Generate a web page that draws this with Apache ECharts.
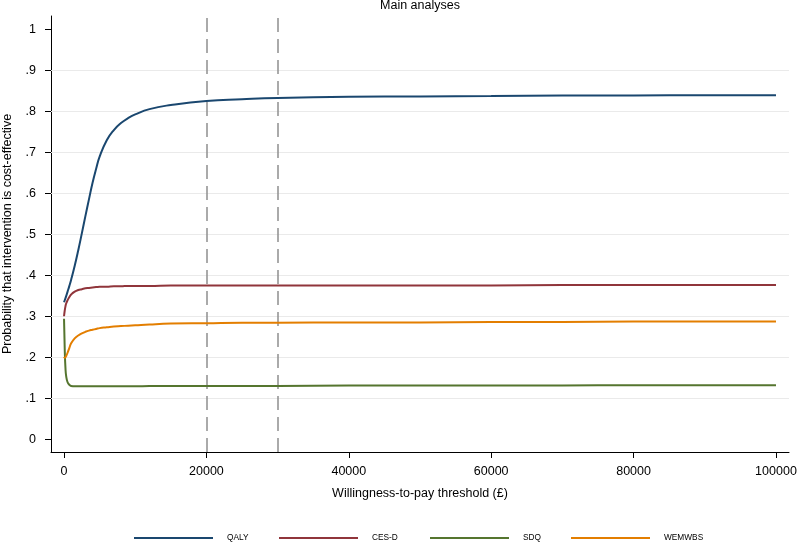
<!DOCTYPE html>
<html>
<head>
<meta charset="utf-8">
<script src="https://cdn.jsdelivr.net/npm/echarts@6/dist/echarts.min.js"></script>
<style>html,body{margin:0;padding:0;background:#fff}#c{width:797px;height:544px}</style>
</head>
<body>
<div id="c"></div>
<script>
// ---- data ----
const wtp = [0, 100, 200, 300, 500, 750, 1000, 1500, 2000, 2500, 3000, 3500, 4000, 4500, 5000, 6000, 7000, 8000, 9000, 10000, 12000, 15000, 20000, 25000, 30000, 40000, 50000, 60000, 70000, 80000, 90000, 100000];
const qaly   = [0.335, 0.340, 0.345, 0.350, 0.361, 0.375, 0.390, 0.424, 0.462, 0.503, 0.545, 0.586, 0.626, 0.660, 0.690, 0.730, 0.755, 0.772, 0.784, 0.793, 0.806, 0.816, 0.826, 0.830, 0.833, 0.836, 0.837, 0.838, 0.839, 0.839, 0.840, 0.840];
const cesd   = [0.301, 0.315, 0.325, 0.332, 0.340, 0.348, 0.354, 0.361, 0.365, 0.367, 0.369, 0.370, 0.371, 0.372, 0.373, 0.373, 0.374, 0.374, 0.375, 0.375, 0.375, 0.376, 0.376, 0.376, 0.376, 0.376, 0.376, 0.376, 0.377, 0.377, 0.377, 0.377];
const sdq    = [0.295, 0.220, 0.175, 0.155, 0.140, 0.134, 0.131, 0.130, 0.130, 0.130, 0.130, 0.130, 0.130, 0.130, 0.130, 0.130, 0.130, 0.130, 0.130, 0.130, 0.131, 0.131, 0.131, 0.131, 0.131, 0.132, 0.132, 0.132, 0.132, 0.133, 0.133, 0.133];
const wemwbs = [0.202, 0.200, 0.201, 0.204, 0.212, 0.224, 0.235, 0.247, 0.254, 0.259, 0.263, 0.266, 0.268, 0.270, 0.272, 0.274, 0.276, 0.277, 0.278, 0.279, 0.281, 0.283, 0.284, 0.285, 0.285, 0.286, 0.286, 0.287, 0.287, 0.288, 0.288, 0.288];
const seriesNames = ['QALY', 'CES-D', 'SDQ', 'WEMWBS'];
const xTicks = [0, 20000, 40000, 60000, 80000, 100000];
const yTicks = [0, 0.1, 0.2, 0.3, 0.4, 0.5, 0.6, 0.7, 0.8, 0.9, 1];
const yTickLabels = ['0', '.1', '.2', '.3', '.4', '.5', '.6', '.7', '.8', '.9', '1'];
const yGridLines = [0.1, 0.2, 0.3, 0.4, 0.5, 0.6, 0.7, 0.8, 0.9];
const refLines = [20000, 30000];
const titleText = 'Main analyses';
const xTitle = 'Willingness-to-pay threshold (£)';
const yTitle = 'Probability that intervention is cost-effective';

// ---- chart ----
const FONT = 'Liberation Sans, Arial, Helvetica, sans-serif';
const colors = ['#1a476f', '#90353b', '#55752f', '#e37e00'];
const valuesList = [qaly, cesd, sdq, wemwbs];
const chart = echarts.init(document.getElementById('c'), null, {renderer: 'canvas'});

const lineSeries = seriesNames.map((n, i) => ({
  name: n,
  type: 'line',
  data: wtp.map((x, j) => [x, valuesList[i][j]]),
  showSymbol: false,
  symbol: 'none',
  smooth: 0.5,
  lineStyle: {color: colors[i], width: 2},
  itemStyle: {color: colors[i]},
  z: 5,
  silent: true,
  animation: false
}));

const legendLefts = [134, 279, 430, 571];
const legends = seriesNames.map((n, i) => ({
  data: [n],
  left: legendLefts[i],
  top: 534,
  orient: 'horizontal',
  padding: 0,
  icon: 'rect',
  itemWidth: 79,
  itemHeight: 2,
  selectedMode: false,
  textStyle: {fontFamily: FONT, fontSize: 8.3, color: '#000', padding: [0, 0, 0, 9]}
}));

chart.setOption({
  animation: false,
  backgroundColor: '#fff',
  textStyle: {fontFamily: FONT},
  grid: {left: 51, right: 8, top: 16, bottom: 92, containLabel: false, outerBoundsMode: 'none'},
  legend: legends,
  graphic: [{
    type: 'text', x: 420, y: 6,
    style: {text: titleText, fontFamily: FONT, fontSize: 12.5, fill: '#000', textAlign: 'center', textVerticalAlign: 'middle'}
  }],
  xAxis: {
    type: 'value', min: -1830, max: 101830,
    name: xTitle, nameLocation: 'middle', nameGap: 35,
    nameTextStyle: {fontFamily: FONT, fontSize: 12.5, color: '#000'},
    axisLine: {show: true, onZero: false, lineStyle: {color: '#000', width: 1}},
    axisTick: {show: true, customValues: xTicks, length: 6, lineStyle: {color: '#000'}},
    axisLabel: {customValues: xTicks, margin: 13, fontFamily: FONT, fontSize: 12.5, color: '#000', formatter: v => String(v)},
    splitLine: {show: false}
  },
  yAxis: {
    type: 'value', min: -0.03, max: 1.033,
    name: yTitle, nameLocation: 'middle', nameGap: 37,
    nameTextStyle: {fontFamily: FONT, fontSize: 12.5, color: '#000'},
    axisLine: {show: true, onZero: false, lineStyle: {color: '#000', width: 1}},
    axisTick: {show: true, customValues: yTicks, length: 6, lineStyle: {color: '#000'}},
    axisLabel: {customValues: yTicks, margin: 15, fontFamily: FONT, fontSize: 12.5, color: '#000',
      formatter: v => yTickLabels[yTicks.findIndex(t => Math.abs(t - v) < 1e-6)] ?? ''},
    splitLine: {show: false}
  },
  series: [
    {
      type: 'line', data: [], silent: true, z: 1,
      markLine: {
        silent: true, symbol: ['none', 'none'], label: {show: false}, animation: false,
        lineStyle: {color: '#eaeaea', width: 1, type: 'solid'},
        data: yGridLines.map(v => ({yAxis: v}))
      }
    },
    {
      type: 'line', data: [], silent: true, z: 2,
      markLine: {
        silent: true, symbol: ['none', 'none'], label: {show: false}, animation: false,
        lineStyle: {color: '#8f8f8f', width: 1.5, type: [14, 7]},
        data: refLines.map(v => ({xAxis: v}))
      }
    },
    ...lineSeries
  ]
});
</script>
</body>
</html>
